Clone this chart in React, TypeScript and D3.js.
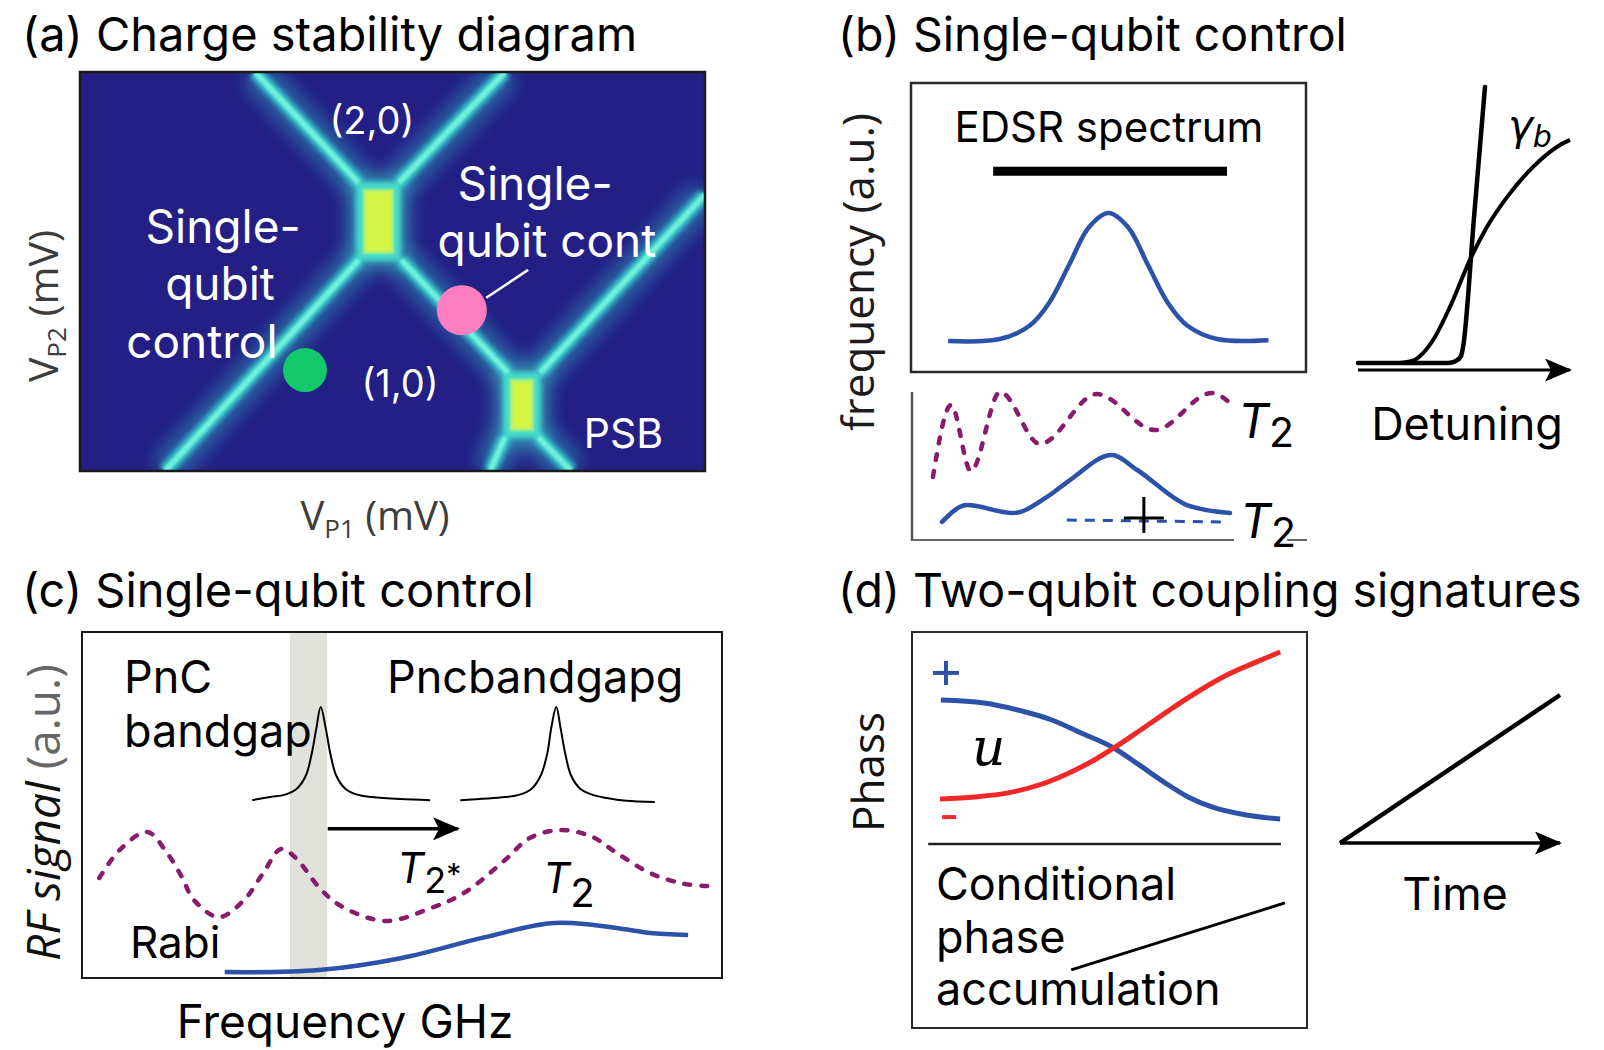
import React from "react";
import * as d3 from "d3";

// ---------- (a) charge stability diagram, gate space in % of sweep ----------
const chargeTransitions: [number, number][][] = [
  [[28.0, 100], [44.6, 72.2]],
  [[68.0, 100], [51.0, 72.2]],
  [[44.6, 52.9], [13.6, 0]],
  [[51.4, 52.9], [68.5, 24.6]],
  [[73.6, 24.6], [100, 69.3]],
  [[68.0, 8.5], [65.6, 0]],
  [[73.3, 8.5], [78.6, 0]],
];
// interdot segments [x0, x1, y0, y1]
const triplePoints = [
  [44.3, 51.2, 52.9, 72.2],
  [67.8, 73.6, 8.5, 24.6],
];
const operatingPoints = [
  { x: 36.0, y: 25.3, r: 22, color: "#13c96b" },
  { x: 61.1, y: 40.3, r: 25, color: "#ff7ec2" },
];
const leader: [number, number][] = [[65.0, 43.4], [71.7, 50.4]];

// ---------- (b) single-qubit control ----------
const edsrFreq = [0.94, 2.25, 3.0, 3.5, 4.0, 4.5, 5.0, 5.5, 6.0, 6.5, 7.0, 7.75, 9.05];
const edsrAmp = [1.07, 1.14, 1.6, 2.4, 3.7, 5.0, 5.5, 5.0, 3.7, 2.4, 1.6, 1.14, 1.1];
const edsrBar = [2.08, 8.0];

const t2Time = [0.53, 0.99, 1.49, 2.23, 3.24, 4.68, 6.15, 7.59, 8.05];
const t2Signal = [4.26, 9.12, 4.66, 10.0, 6.49, 9.86, 7.43, 9.93, 9.26];
const t2mTime = [0.76, 1.39, 2.56, 3.42, 4.0, 5.06, 5.7, 6.96, 8.05];
const t2mSignal = [1.22, 2.36, 1.82, 2.91, 4.05, 5.74, 4.73, 2.36, 1.82];
const t2mFloorTime = [3.92, 7.85];
const t2mFloor = [1.35, 1.22];
const crossMark = [5.87, 1.49];

const steepDet = [0, 4.25, 4.62, 4.86, 4.95, 5.47, 5.99];
const steepVal = [0.25, 0.25, 0.32, 0.49, 0.78, 5.37, 10.0];
const gammaDet = [1.98, 2.55, 3.07, 3.54, 4.34, 5.28, 6.08, 7.03, 8.25, 9.53, 10];
const gammaVal = [0.25, 0.32, 0.6, 1.06, 2.23, 3.89, 5.05, 6.11, 7.17, 7.95, 8.13];

// ---------- (c) single-qubit control vs frequency ----------
const bandgap = [3.25, 3.83];
const peak1Freq = [2.66, 2.94, 3.17, 3.36, 3.5, 3.59, 3.66, 3.73, 3.81, 3.88, 3.97, 4.11, 4.3, 4.53, 4.97, 5.44];
const peak1Amp = [5.14, 5.23, 5.3, 5.48, 5.86, 6.49, 7.2, 7.83, 7.2, 6.49, 5.86, 5.48, 5.3, 5.23, 5.17, 5.14];
const peak2Freq = [5.91, 6.61, 6.84, 7.03, 7.17, 7.27, 7.33, 7.41, 7.48, 7.55, 7.64, 7.78, 7.97, 8.2, 8.5, 8.95];
const peak2Amp = [5.14, 5.23, 5.3, 5.48, 5.86, 6.49, 7.2, 7.83, 7.2, 6.49, 5.86, 5.48, 5.3, 5.2, 5.12, 5.09];
const shiftArrow = [3.84, 5.875, 4.31];
const ramseyFreq = [0.27, 0.59, 1.02, 1.33, 1.56, 1.75, 2.14, 2.53, 2.83, 3.11, 3.34, 3.7, 4.02, 4.73, 5.45, 5.97, 6.61, 7.0, 7.48, 7.97, 8.36, 8.88, 9.41, 9.78];
const ramseyAmp = [2.89, 3.7, 4.22, 3.61, 2.92, 2.25, 1.76, 2.25, 3.03, 3.73, 3.47, 2.63, 2.11, 1.65, 2.02, 2.46, 3.41, 4.05, 4.28, 4.08, 3.61, 3.03, 2.72, 2.66];
const rabiFreq = [2.23, 3.7, 5.0, 6.3, 7.39, 8.56, 8.88, 9.47];
const rabiAmp = [0.17, 0.23, 0.58, 1.18, 1.59, 1.39, 1.3, 1.24];

// ---------- (d) two-qubit coupling ----------
const phaseDetuning = [0.73, 1.82, 2.68, 3.54, 4.28, 5.11, 5.75, 6.38, 6.99, 7.59, 8.46, 9.32];
const phasePlus = [6.79, 6.65, 6.32, 5.85, 5.24, 4.53, 3.73, 2.92, 2.22, 1.75, 1.37, 1.18];
const phaseDetuning2 = [0.71, 1.59, 2.43, 3.29, 4.03, 4.66, 5.11, 5.75, 6.48, 7.22, 7.97, 8.71, 9.32];
const phaseMinus = [2.12, 2.22, 2.41, 2.83, 3.4, 4.01, 4.53, 5.33, 6.27, 7.17, 7.97, 8.58, 9.06];
const condPhase: [number, number][] = [[4.03, -5.94], [9.44, -2.78]];
const timeRamp: [number, number][] = [[0, 0], [10, 10]];

const SANS = "Inter, 'Liberation Sans', Arial, sans-serif";
const LABEL = "'Open Sans', 'Noto Sans', sans-serif";
const BLUE = "#2b52a8";
const PURPLE = "#8a1a6c";

function path(xs: number[], ys: number[], sx: (v: number) => number, sy: (v: number) => number, curve: d3.CurveFactory = d3.curveMonotoneX) {
  return d3.line<number>().x((d) => sx(d)).y((_, i) => sy(ys[i])).curve(curve)(xs) ?? "";
}

export default function App() {
  // scales
  const ax = d3.scaleLinear([0, 100], [80, 705]);
  const ay = d3.scaleLinear([0, 100], [471, 72]);
  const btx = d3.scaleLinear([0, 10], [911, 1306]);
  const bty = d3.scaleLinear([0, 10], [372, 83]);
  const bbx = d3.scaleLinear([0, 10], [912, 1307]);
  const bby = d3.scaleLinear([0, 10], [540, 392]);
  const brx = d3.scaleLinear([0, 10], [1358, 1570]);
  const bry = d3.scaleLinear([0, 10], [370, 87]);
  const cx = d3.scaleLinear([0, 10], [82, 722]);
  const cy = d3.scaleLinear([0, 10], [978, 632]);
  const dx = d3.scaleLinear([0, 10], [912, 1307]);
  const dy = d3.scaleLinear([0, 10], [844, 632]);
  const drx = d3.scaleLinear([0, 10], [1340, 1560]);
  const dry = d3.scaleLinear([0, 10], [843, 695]);

  const segLine = d3.line<[number, number]>().x((d) => ax(d[0])).y((d) => ay(d[1]));
  const transitions = chargeTransitions.map((s) => segLine(s) ?? "");

  const tripleRect = (t: number[], pad: number) => (
    {
      x: ax(t[0]) + pad,
      y: ay(t[3]) + pad,
      width: ax(t[1]) - ax(t[0]) - 2 * pad,
      height: ay(t[2]) - ay(t[3]) - 2 * pad,
    }
  );

  const whiteText = { fill: "#fff", fontFamily: SANS, fontSize: 46 } as const;

  return (
    <svg width={1604} height={1050} style={{ position: "absolute", left: 0, top: 0, background: "#fff" }} fontFamily={SANS}>
      <defs>
        <filter id="glowWide" filterUnits="userSpaceOnUse" x="0" y="0" width="1604" height="1050">
          <feGaussianBlur stdDeviation="9" />
        </filter>
        <filter id="glowMid" filterUnits="userSpaceOnUse" x="0" y="0" width="1604" height="1050">
          <feGaussianBlur stdDeviation="2.6" />
        </filter>
        <filter id="soft" filterUnits="userSpaceOnUse" x="0" y="0" width="1604" height="1050">
          <feGaussianBlur stdDeviation="0.9" />
        </filter>
        <clipPath id="clipA">
          <rect x={ax(0)} y={ay(100)} width={ax(100) - ax(0)} height={ay(0) - ay(100)} />
        </clipPath>
        <marker id="arrow" viewBox="0 0 27 23" markerWidth="27" markerHeight="23" refX="25" refY="11.5" orient="auto" markerUnits="userSpaceOnUse">
          <path d="M0,0 L27,11.5 L0,23 L6,11.5 z" fill="#000" />
        </marker>
      </defs>

      {/* ================= (a) ================= */}
      <text x={22} y={51} fontSize={47}>(a) Charge stability diagram</text>
      <g clipPath="url(#clipA)">
        <rect x={ax(0)} y={ay(100)} width={ax(100) - ax(0)} height={ay(0) - ay(100)} fill="#231f84" />
        <g filter="url(#glowWide)">
          {transitions.map((d, i) => (
            <path key={i} d={d} stroke="#2c92b8" strokeWidth={34} strokeOpacity={0.6} fill="none" />
          ))}
          {triplePoints.map((t, i) => (
            <rect key={i} {...tripleRect(t, -8)} fill="#3ab6c2" opacity={0.75} />
          ))}
        </g>
        <g filter="url(#glowMid)">
          {transitions.map((d, i) => (
            <path key={i} d={d} stroke="#38cccc" strokeWidth={13} fill="none" />
          ))}
          {triplePoints.map((t, i) => (
            <rect key={i} {...tripleRect(t, -1)} fill="#45dccb" />
          ))}
        </g>
        <g filter="url(#soft)">
          {transitions.map((d, i) => (
            <path key={i} d={d} stroke="#72f0dc" strokeWidth={5.5} fill="none" />
          ))}
          {triplePoints.map((t, i) => (
            <rect key={i} {...tripleRect(t, 6)} fill="#a9f07a" />
          ))}
          {triplePoints.map((t, i) => (
            <rect key={i} {...tripleRect(t, 9)} fill="#d5f545" />
          ))}
        </g>
      </g>
      <rect x={ax(0)} y={ay(100)} width={ax(100) - ax(0)} height={ay(0) - ay(100)} fill="none" stroke="#1a1a1a" strokeWidth={2.5} />
      <path d={segLine(leader) ?? ""} stroke="#fff" strokeWidth={2.5} fill="none" />
      {operatingPoints.map((p, i) => (
        <circle key={i} cx={ax(p.x)} cy={ay(p.y)} r={p.r} fill={p.color} />
      ))}
      <text x={ax(46.7)} y={ay(84.5)} {...whiteText} fontSize={38} textAnchor="middle">(2,0)</text>
      <text x={ax(51.2)} y={ay(18.5)} {...whiteText} fontSize={38} textAnchor="middle">(1,0)</text>
      <text x={ax(80.6)} y={ay(5.8)} {...whiteText} fontSize={41}>PSB</text>
      <text x={ax(22.9)} y={ay(57.1)} {...whiteText} textAnchor="middle">Single-</text>
      <text x={ax(22.4)} y={ay(42.9)} {...whiteText} textAnchor="middle">qubit</text>
      <text x={ax(19.5)} y={ay(28.3)} {...whiteText} textAnchor="middle">control</text>
      <text x={ax(72.8)} y={ay(67.9)} {...whiteText} textAnchor="middle">Single-</text>
      <text x={ax(74.7)} y={ay(53.6)} {...whiteText} textAnchor="middle">qubit cont</text>

      <text x={375} y={530} fontFamily={LABEL} fontSize={40} fill="#3d3d3d" textAnchor="middle">
        V<tspan fontSize={26} dy={8}>P1</tspan><tspan dy={-8}> (mV)</tspan>
      </text>
      <text transform="translate(58,306) rotate(-90)" fontFamily={LABEL} fontSize={41} fill="#3d3d3d" textAnchor="middle">
        V<tspan fontSize={26} dy={8}>P2</tspan><tspan dy={-8}> (mV)</tspan>
      </text>

      {/* ================= (b) ================= */}
      <text x={838} y={51} fontSize={46.5}>(b) Single-qubit control</text>
      <text transform="translate(874,272) rotate(-90)" fontFamily={LABEL} fontSize={44} fill="#1c1c1c" textAnchor="middle">frequency (a.u.)</text>
      <rect x={btx(0)} y={bty(10)} width={btx(10) - btx(0)} height={bty(0) - bty(10)} fill="none" stroke="#2a2a2a" strokeWidth={2.5} />
      <text x={btx(5.01)} y={bty(7.96)} fontSize={42} textAnchor="middle">EDSR spectrum</text>
      <line x1={btx(edsrBar[0])} x2={btx(edsrBar[1])} y1={bty(6.95)} y2={bty(6.95)} stroke="#000" strokeWidth={9} />
      <path d={path(edsrFreq, edsrAmp, btx, bty, d3.curveCatmullRom)} stroke={BLUE} strokeWidth={4.5} fill="none" />

      {/* coherence sub-panel */}
      <line x1={bbx(0)} x2={bbx(0)} y1={bby(10)} y2={bby(0) + 1} stroke="#555" strokeWidth={2.5} />
      <line x1={bbx(0)} x2={bbx(8.15)} y1={bby(0)} y2={bby(0)} stroke="#666" strokeWidth={2} />
      <line x1={bbx(9.5)} x2={bbx(10)} y1={bby(0)} y2={bby(0)} stroke="#666" strokeWidth={2} />
      <path d={path(t2Time, t2Signal, bbx, bby)} stroke={PURPLE} strokeWidth={4.5} fill="none" strokeDasharray="6 11" strokeLinecap="round" />
      <path d={path(t2mTime, t2mSignal, bbx, bby)} stroke={BLUE} strokeWidth={4.5} fill="none" strokeLinecap="round" />
      <path d={path(t2mFloorTime, t2mFloor, bbx, bby, d3.curveLinear)} stroke={BLUE} strokeWidth={3} fill="none" strokeDasharray="10 8" />
      <g stroke="#000" strokeWidth={3}>
        <line x1={bbx(crossMark[0]) - 20} x2={bbx(crossMark[0]) + 20} y1={bby(crossMark[1])} y2={bby(crossMark[1])} />
        <line x1={bbx(crossMark[0])} x2={bbx(crossMark[0])} y1={bby(crossMark[1]) - 21} y2={bby(crossMark[1]) + 15} />
      </g>
      <text x={1238} y={438} fontSize={48} fontStyle="italic">T<tspan fontStyle="normal" fontSize={41} dy={9}>2</tspan></text>
      <text x={1240} y={538} fontSize={48} fontStyle="italic">T<tspan fontStyle="normal" fontSize={41} dy={9}>2</tspan></text>

      {/* detuning sketch */}
      <line x1={brx(0)} x2={brx(10)} y1={bry(0)} y2={bry(0)} stroke="#000" strokeWidth={3} markerEnd="url(#arrow)" />
      <path d={path(steepDet, steepVal, brx, bry)} stroke="#000" strokeWidth={4.5} fill="none" strokeLinecap="round" />
      <path d={path(gammaDet, gammaVal, brx, bry)} stroke="#000" strokeWidth={4} fill="none" />
      <text x={1508} y={140} fontSize={42} fontStyle="italic" fontFamily="'DejaVu Sans', sans-serif">γ<tspan fontSize={30} dy={7}>b</tspan></text>
      <text x={1467} y={440} fontSize={45} textAnchor="middle">Detuning</text>

      {/* ================= (c) ================= */}
      <text x={22} y={607} fontSize={47}>(c) Single-qubit control</text>
      <rect x={cx(bandgap[0])} y={cy(10)} width={cx(bandgap[1]) - cx(bandgap[0])} height={cy(0) - cy(10)} fill="#e1e1dc" />
      <rect x={cx(0)} y={cy(10)} width={cx(10) - cx(0)} height={cy(0) - cy(10)} fill="none" stroke="#1a1a1a" strokeWidth={2} />
      <text x={124} y={693} fontSize={45}>PnC</text>
      <text x={124} y={747} fontSize={45}>bandgap</text>
      <text x={387} y={693} fontSize={45}>Pncbandgapg</text>
      <path d={path(peak1Freq, peak1Amp, cx, cy, d3.curveCatmullRom)} stroke="#000" strokeWidth={2} fill="none" />
      <path d={path(peak2Freq, peak2Amp, cx, cy, d3.curveCatmullRom)} stroke="#000" strokeWidth={2} fill="none" />
      <line x1={cx(shiftArrow[0])} x2={cx(shiftArrow[1])} y1={cy(shiftArrow[2])} y2={cy(shiftArrow[2])} stroke="#000" strokeWidth={3.5} markerEnd="url(#arrow)" />
      <path d={path(ramseyFreq, ramseyAmp, cx, cy, d3.curveCatmullRom)} stroke={PURPLE} strokeWidth={4.5} fill="none" strokeDasharray="6 11" strokeLinecap="round" />
      <path d={path(rabiFreq, rabiAmp, cx, cy, d3.curveCatmullRom)} stroke={BLUE} strokeWidth={4.5} fill="none" />
      <text x={130} y={958} fontSize={44}>Rabi</text>
      <text x={397} y={883} fontSize={42} fontStyle="italic">T<tspan fontStyle="normal" fontSize={36} dy={10}>2</tspan><tspan fontStyle="normal" fontSize={30} dy={-8}>*</tspan></text>
      <text x={543} y={893} fontSize={42} fontStyle="italic">T<tspan fontStyle="normal" fontSize={40} dy={14}>2</tspan></text>
      <text transform="translate(60,961) rotate(-90)" fontFamily={LABEL} fontSize={46}>
        <tspan fontStyle="italic" fill="#111">RF signal</tspan><tspan fill="#666"> (a.u.)</tspan>
      </text>
      <text x={345} y={1038} fontSize={46} textAnchor="middle">Frequency GHz</text>

      {/* ================= (d) ================= */}
      <text x={838} y={607} fontSize={46.5}>(d) Two-qubit coupling signatures</text>
      <text transform="translate(884,772) rotate(-90)" fontFamily={LABEL} fontSize={44} fill="#111" textAnchor="middle">Phass</text>
      <rect x={dx(0)} y={632} width={dx(10) - dx(0)} height={396} fill="none" stroke="#2a2a2a" strokeWidth={2} />
      <line x1={dx(0.41)} x2={dx(9.34)} y1={dy(0)} y2={dy(0)} stroke="#222" strokeWidth={2.5} />
      <path d={path(phaseDetuning, phasePlus, dx, dy)} stroke={BLUE} strokeWidth={5} fill="none" />
      <path d={path(phaseDetuning2, phaseMinus, dx, dy)} stroke="#f02828" strokeWidth={5} fill="none" />
      <g stroke={BLUE} strokeWidth={4}>
        <line x1={dx(0.86) - 13} x2={dx(0.86) + 13} y1={dy(8.07)} y2={dy(8.07)} />
        <line x1={dx(0.86)} x2={dx(0.86)} y1={dy(8.07) - 12} y2={dy(8.07) + 12} />
      </g>
      <line x1={dx(0.94) - 7} x2={dx(0.94) + 7} y1={dy(1.27)} y2={dy(1.27)} stroke="#f02828" strokeWidth={4} />
      <text x={dx(1.52)} y={dy(3.73)} fontFamily="'DejaVu Serif', serif" fontStyle="italic" fontSize={52}>u</text>
      <path d={d3.line<[number, number]>().x((d) => dx(d[0])).y((d) => dy(d[1]))(condPhase) ?? ""} stroke="#000" strokeWidth={3} fill="none" />
      <text x={936} y={900} fontSize={45}>Conditional</text>
      <text x={936} y={953} fontSize={45}>phase</text>
      <text x={936} y={1005} fontSize={45}>accumulation</text>

      <line x1={drx(0)} x2={drx(10)} y1={dry(0)} y2={dry(0)} stroke="#000" strokeWidth={3.5} markerEnd="url(#arrow)" />
      <path d={d3.line<[number, number]>().x((d) => drx(d[0])).y((d) => dry(d[1]))(timeRamp) ?? ""} stroke="#000" strokeWidth={4.5} fill="none" />
      <text x={1455} y={910} fontSize={45} textAnchor="middle">Time</text>
    </svg>
  );
}
